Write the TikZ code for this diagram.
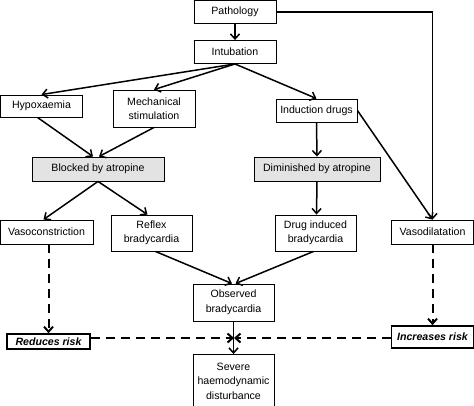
\documentclass[tikz,border=0pt]{standalone}
\usepackage{fontspec}
\setmainfont{Liberation Sans}
\usetikzlibrary{arrows.meta, positioning}

\begin{document}
\begin{tikzpicture}
[x=1pt, y=-1pt,
 >={Straight Barb[length=5pt,width=9pt]},
 every node/.style={font=\fontsize{10.6}{14.5}\selectfont, align=center, inner sep=0pt},
 box/.style={draw, line width=0.9pt, minimum width=82pt, minimum height=23pt},
 greybox/.style={box, fill=gray!22, minimum height=24pt},
 riskbox/.style={draw, line width=1.7pt, minimum width=83pt, font=\fontsize{10.6}{12}\selectfont\bfseries\itshape},
 link/.style={->, line width=1.5pt},
 risk/.style={->, line width=2pt, dash pattern=on 9pt off 6pt}
]
\useasboundingbox (0,0) rectangle (474,405);

\node[box] (pathology) at (235,12) {Pathology};
\node[box] (intubation) at (235,52) {Intubation};
\node[box, minimum height=22pt] (hypox) at (41.5,106) {Hypoxaemia};
\node[box, minimum height=37pt] (mech) at (154,108.5) {Mechanical\\stimulation};
\node[box, minimum width=81pt] (induct) at (316.5,110.5) {Induction drugs};
\node[greybox, minimum width=132pt] (blocked) at (98,169) {Blocked by atropine};
\node[greybox, minimum width=126pt] (dimin) at (317,169) {Diminished by atropine};
\node[box, minimum width=93pt, minimum height=24pt] (vasocon) at (46.5,232) {Vasoconstriction};
\node[box, minimum width=81pt, minimum height=36pt] (reflex) at (151.5,233) {Reflex\\bradycardia};
\node[box, minimum width=81pt, minimum height=36pt] (druginduced) at (315.5,233) {Drug induced\\bradycardia};
\node[box, minimum height=24pt] (vasodil) at (432.5,232) {Vasodilatation};
\node[box, minimum width=81pt, minimum height=37pt] (observed) at (233.5,302.5) {Observed\\bradycardia};
\node[box, minimum width=81pt, minimum height=53pt] (severe) at (233.5,381) {Severe\\haemodynamic\\disturbance};
\node[riskbox, minimum height=15pt] (reduces) at (48.5,341.5) {Reduces risk};
\node[riskbox, minimum width=82pt, minimum height=22pt] (increases) at (432.5,337) {Increases risk};
\coordinate (meet) at (234,338);

% solid links
\draw[link] (pathology) -- (intubation);
\draw[link] (pathology.east) -| (vasodil.north);
\draw[link] (intubation.south) -- (hypox.north);
\draw[link] (intubation.south) -- (mech.north);
\draw[link] (intubation.south) -- (induct.north);
\draw[link] ([xshift=-4pt]hypox.south) -- ([xshift=-5pt]blocked.north);
\draw[link] (mech.south) -- ([xshift=1pt]blocked.north);
\draw[link] (induct.south) -- (dimin.north);
\draw[link] (induct.east) -- (vasodil.north);
\draw[link] (blocked.south) -- ([xshift=-3pt]vasocon.north);
\draw[link] (blocked.south) -- ([xshift=-4pt]reflex.north);
\draw[link] (dimin.south) -- ([xshift=1pt]druginduced.north);
\draw[link] ([xshift=4pt]reflex.south) -- ([xshift=-1.5pt]observed.north);
\draw[link] ([xshift=-2pt]druginduced.south) -- ([xshift=2pt]observed.north);
\draw[link] (observed.south) -- (severe.north);

% dashed risk links
\draw[risk] (reduces.north |- vasocon.south) -- (reduces.north);
\draw[risk] (vasodil.south) -- (increases.north);
\draw[risk] (reduces.east |- meet) -- (meet);
\draw[risk] (increases.west |- meet) -- (meet);
\end{tikzpicture}
\end{document}
